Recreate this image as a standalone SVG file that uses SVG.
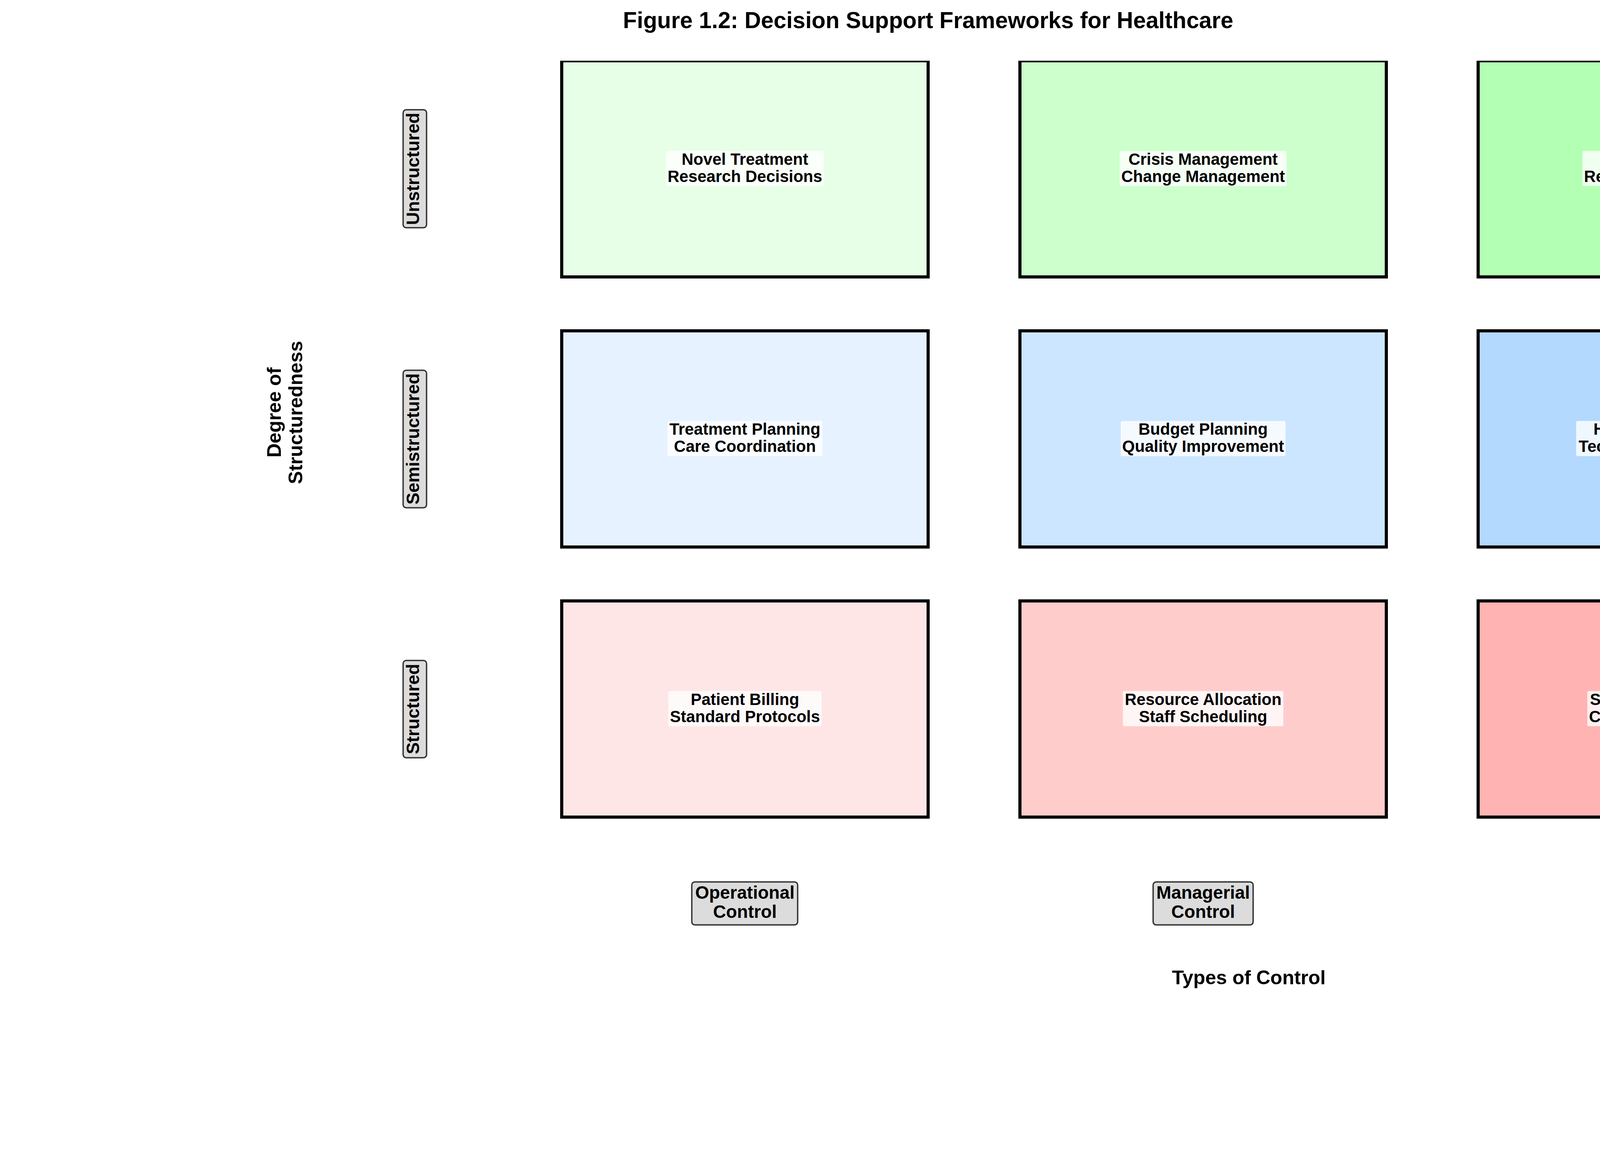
<svg xmlns="http://www.w3.org/2000/svg" width="4752" height="2952" viewBox="0 0 4752 2952">
<defs>
<style>
text{font-family:"Liberation Sans",Arial,"DejaVu Sans",sans-serif;font-weight:bold;fill:#000;text-anchor:middle}
.cell{stroke:#000;stroke-width:8}
.lbl{fill:#fff;fill-opacity:0.8;stroke:none}
.cellt{font-size:41.67px}
.hdr{fill:#d3d3d3;fill-opacity:0.8;stroke:#333;stroke-width:3.5}
.hdrt{font-size:45.83px}
.axt{font-size:50px}
.title{font-size:58.33px}
</style>
<clipPath id="ax"><rect x="0" y="155.5" width="4722" height="2800"/></clipPath>
</defs>
<rect x="0" y="0" width="4752" height="2952" fill="#fff"/>
<text class="title" x="2376" y="72">Figure 1.2: Decision Support Frameworks for Healthcare</text>

<g clip-path="url(#ax)">
<g id="cell-unstructured-operational">
<rect class="cell" x="1438" y="155.5" width="938" height="553.5" fill="#e6ffe6"/>
<rect class="lbl" x="1705" y="386.25" width="404" height="90" rx="4"/>
<text class="cellt" x="1907" y="421.5">Novel Treatment</text>
<text class="cellt" x="1907" y="465.5">Research Decisions</text>
</g>
<g id="cell-unstructured-managerial">
<rect class="cell" x="2611" y="155.5" width="938" height="553.5" fill="#ccffcc"/>
<rect class="lbl" x="2866.5" y="386.25" width="427" height="90" rx="4"/>
<text class="cellt" x="3080" y="421.5">Crisis Management</text>
<text class="cellt" x="3080" y="465.5">Change Management</text>
</g>
<g id="cell-unstructured-strategic">
<rect class="cell" x="3784" y="155.5" width="938" height="553.5" fill="#b3ffb3"/>
<rect class="lbl" x="4051" y="386.25" width="404" height="90" rx="4"/>
<text class="cellt" x="4253" y="421.5">Vision Setting</text>
<text class="cellt" x="4253" y="465.5">Regulatory Strategy</text>
</g>

<g id="cell-semistructured-operational">
<rect class="cell" x="1438" y="847" width="938" height="553.5" fill="#e6f2ff"/>
<rect class="lbl" x="1708.5" y="1077.75" width="397" height="90" rx="4"/>
<text class="cellt" x="1907" y="1113">Treatment Planning</text>
<text class="cellt" x="1907" y="1157">Care Coordination</text>
</g>
<g id="cell-semistructured-managerial">
<rect class="cell" x="2611" y="847" width="938" height="553.5" fill="#cce6ff"/>
<rect class="lbl" x="2869" y="1077.75" width="422" height="90" rx="4"/>
<text class="cellt" x="3080" y="1113">Budget Planning</text>
<text class="cellt" x="3080" y="1157">Quality Improvement</text>
</g>
<g id="cell-semistructured-strategic">
<rect class="cell" x="3784" y="847" width="938" height="553.5" fill="#b3d9ff"/>
<rect class="lbl" x="4035" y="1077.75" width="436" height="90" rx="4"/>
<text class="cellt" x="4253" y="1113">Healthcare Policy</text>
<text class="cellt" x="4253" y="1157">Technology Adoption</text>
</g>

<g id="cell-structured-operational">
<rect class="cell" x="1438" y="1538.5" width="938" height="553.5" fill="#ffe6e6"/>
<rect class="lbl" x="1711" y="1769.25" width="392" height="90" rx="4"/>
<text class="cellt" x="1907" y="1804.5">Patient Billing</text>
<text class="cellt" x="1907" y="1848.5">Standard Protocols</text>
</g>
<g id="cell-structured-managerial">
<rect class="cell" x="2611" y="1538.5" width="938" height="553.5" fill="#ffcccc"/>
<rect class="lbl" x="2874.5" y="1769.25" width="411" height="90" rx="4"/>
<text class="cellt" x="3080" y="1804.5">Resource Allocation</text>
<text class="cellt" x="3080" y="1848.5">Staff Scheduling</text>
</g>
<g id="cell-structured-strategic">
<rect class="cell" x="3784" y="1538.5" width="938" height="553.5" fill="#ffb3b3"/>
<rect class="lbl" x="4063.5" y="1769.25" width="379" height="90" rx="4"/>
<text class="cellt" x="4253" y="1804.5">Strategic Planning</text>
<text class="cellt" x="4253" y="1848.5">Capital Investment</text>
</g>
</g>

<g id="row-unstructured">
<rect class="hdr" x="1032" y="281" width="60" height="302" rx="8"/>
<text class="hdrt" transform="rotate(-90)" x="-432.25" y="1073">Unstructured</text>
</g>
<g id="row-semistructured">
<rect class="hdr" x="1032" y="948" width="60" height="352" rx="8"/>
<text class="hdrt" transform="rotate(-90)" x="-1123.75" y="1073">Semistructured</text>
</g>
<g id="row-structured">
<rect class="hdr" x="1032" y="1691" width="60" height="249" rx="8"/>
<text class="hdrt" transform="rotate(-90)" x="-1815.25" y="1073">Structured</text>
</g>

<g id="col-operational">
<rect class="hdr" x="1771" y="2258" width="271" height="110" rx="8"/>
<text class="hdrt" x="1907" y="2301">Operational</text>
<text class="hdrt" x="1907" y="2350">Control</text>
</g>
<g id="col-managerial">
<rect class="hdr" x="2952" y="2258" width="256" height="110" rx="8"/>
<text class="hdrt" x="3080" y="2301">Managerial</text>
<text class="hdrt" x="3080" y="2350">Control</text>
</g>
<g id="col-strategic">
<rect class="hdr" x="4146" y="2258" width="214" height="110" rx="8"/>
<text class="hdrt" x="4253" y="2301">Strategic</text>
<text class="hdrt" x="4253" y="2350">Planning</text>
</g>

<g id="axis-labels">
<text class="axt" transform="rotate(-90)" x="-1056" y="719">Degree of</text>
<text class="axt" transform="rotate(-90)" x="-1056" y="774">Structuredness</text>
<text class="axt" x="3197" y="2520">Types of Control</text>
</g>

<g id="connectors"/>
</svg>
